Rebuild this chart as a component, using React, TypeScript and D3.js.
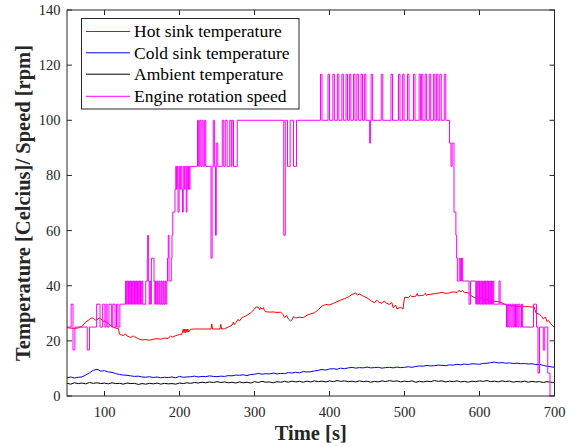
import React from "react";
import * as d3 from "d3";

// ---- data ----
const sampleTimes: number[] = d3.range(50, 701, 5);

const coldSinkTemp: number[] = [
  6.6, 6.9, 6.5, 6.8, 6.9, 7.6, 8.4, 9.3, 9.7, 9.0, 9.2, 8.7, 8.6, 8.1, 7.8, 7.6, 7.5, 7.3, 7.1, 7.2,
  6.9, 6.8, 7.0, 6.7, 6.9, 6.6, 6.8, 6.7, 6.9, 6.6, 7.1, 6.8, 6.9, 7.0, 7.2, 6.9, 7.1, 7.0, 7.3, 7.1,
  7.0, 7.2, 7.1, 7.4, 7.3, 7.6, 7.5, 7.7, 7.4, 7.8, 7.9, 8.2, 7.9, 8.1, 8.0, 8.3, 8.0, 8.2, 8.1, 8.5,
  8.3, 8.6, 8.4, 8.9, 8.7, 8.8, 9.1, 9.3, 9.6, 9.4, 9.8, 9.9, 9.7, 10.1, 9.9, 10.2, 10.4, 10.1, 10.3, 10.2,
  10.5, 10.2, 10.3, 10.4, 10.1, 10.3, 10.4, 10.2, 10.5, 10.3, 10.4, 10.6, 10.4, 10.7, 10.9, 10.8, 11.1, 10.9, 11.0, 11.2,
  11.1, 11.0, 11.3, 11.2, 11.5, 11.3, 11.6, 11.4, 11.7, 11.6, 11.5, 11.8, 11.9, 12.1, 12.3, 12.0, 12.1, 11.9, 12.0, 11.8,
  11.9, 11.7, 11.8, 11.6, 11.7, 11.4, 11.5, 11.1, 10.8, 10.6, 10.4,
];

const ambientTemp: number[] = [
  4.6, 4.3, 4.8, 4.5, 4.7, 4.4, 4.9, 4.6, 4.8, 4.5, 4.7, 4.4, 4.8, 4.5, 4.6, 4.3, 4.7, 4.5, 4.6, 4.2,
  4.5, 4.3, 4.6, 4.4, 4.7, 4.3, 4.6, 4.4, 4.5, 4.3, 4.7, 4.5, 4.8, 4.6, 4.9, 4.7, 5.0, 4.8, 5.1, 4.9,
  5.2, 4.9, 5.1, 4.8, 5.0, 4.7, 5.1, 4.8, 5.0, 4.7, 5.2, 4.9, 5.3, 5.0, 5.1, 4.8, 5.2, 5.0, 5.3, 5.0,
  5.4, 5.1, 5.3, 5.0, 5.4, 5.1, 5.5, 5.2, 5.4, 5.1, 5.5, 5.2, 5.6, 5.3, 5.5, 5.2, 5.4, 5.1, 5.5, 5.2,
  5.4, 5.0, 5.3, 5.1, 5.5, 5.2, 5.6, 5.3, 5.5, 5.1, 5.4, 5.2, 5.5, 5.0, 5.3, 5.1, 5.4, 5.2, 5.6, 5.3,
  5.5, 5.1, 5.4, 5.2, 5.5, 5.1, 5.3, 5.0, 5.4, 5.2, 5.5, 5.3, 5.6, 5.2, 5.4, 5.1, 5.5, 5.2, 5.4, 5.0,
  5.3, 5.1, 5.4, 5.0, 5.3, 5.1, 5.2, 4.9, 5.2, 5.0, 4.9,
];

const hotSink: [number, number][] = [
  [50, 24.8], [55, 24.6], [60, 24.5], [65, 24.7], [70, 25.3], [75, 26.8], [80, 27.8], [83, 28.3], [85, 28.2],
  [88, 27.5], [90, 27.6], [93, 28.4], [95, 28.0], [98, 27.1], [100, 27.2], [105, 26.3], [110, 25.2],
  [115, 24.6], [118.5, 24.5], [120, 22.4], [125, 21.9], [128, 22.5], [130, 21.8], [135, 21.2], [138, 21.8],
  [140, 21.5], [145, 20.8], [150, 20.3], [155, 20.5], [160, 20.2], [165, 20.6], [170, 20.8], [175, 20.6],
  [180, 21.0], [185, 20.9], [188, 21.8], [190, 21.3], [195, 21.9], [200, 22.3], [203, 22.4], [205, 24.2],
  [206, 23.0], [207, 24.3], [208, 23.0], [209, 24.2], [210, 23.1], [211, 24.3], [212, 23.2], [215, 24.2],
  [220, 24.3], [230, 24.3], [242, 24.3], [243, 26.1], [244, 24.3], [254, 24.3], [255, 26.0], [256, 24.3],
  [260, 24.4], [265, 25.0], [270, 25.7], [272, 26.8], [273, 25.9], [275, 26.5], [278, 27.8], [280, 27.2],
  [283, 28.4], [285, 28.6], [290, 29.3], [295, 30.2], [300, 31.5], [302, 32.3], [305, 32.2], [307, 31.3],
  [308, 32.1], [310, 31.5], [312, 32.0], [313, 31.0], [315, 30.6], [320, 30.4], [325, 30.5], [330, 30.3],
  [335, 30.4], [338, 29.5], [340, 28.5], [343, 29.2], [345, 28.0], [348, 27.2], [350, 27.6], [352, 28.8],
  [355, 28.3], [360, 28.6], [365, 28.4], [370, 29.3], [375, 29.8], [380, 30.2], [385, 31.3], [390, 32.6],
  [395, 33.2], [400, 33.0], [405, 33.6], [410, 34.2], [415, 34.8], [420, 35.3], [425, 35.9], [430, 36.8],
  [435, 37.4], [437, 36.6], [440, 37.0], [445, 36.2], [450, 35.6], [455, 34.6], [460, 33.8], [463, 34.8],
  [465, 34.2], [470, 33.6], [473, 34.5], [475, 33.8], [480, 33.2], [483, 33.9], [485, 32.0], [488, 33.0],
  [490, 31.6], [495, 32.2], [498, 31.5], [500, 35.8], [505, 35.7], [508, 36.5], [510, 36.0], [515, 36.2],
  [517, 37.2], [518, 36.3], [520, 36.4], [525, 36.5], [528, 37.3], [529, 36.5], [530, 36.7], [535, 36.9],
  [540, 37.1], [545, 37.3], [550, 37.6], [555, 37.2], [560, 37.4], [565, 37.8], [570, 37.5], [573, 38.4],
  [575, 37.7], [577, 38.3], [580, 37.6], [585, 37.4], [590, 36.2], [595, 35.4], [600, 35.0], [603, 35.8],
  [605, 34.9], [610, 35.2], [612, 34.3], [615, 34.6], [620, 34.4], [625, 34.2], [630, 33.8], [635, 33.0],
  [640, 32.8], [645, 32.6], [650, 32.5], [655, 32.5], [660, 32.4], [665, 32.4], [670, 32.3], [673, 32.2],
  [675, 30.2], [680, 29.6], [683, 28.8], [685, 28.0], [688, 28.6], [690, 27.0], [692, 27.4], [695, 26.2],
  [700, 24.8],
];

// engine speed change points [time, rpm] (value holds until next point)
const engineSpeed: [number, number][] = [
  [50, 25], [55.5, 33.3], [58, 16.7], [60.5, 25], [77, 16.7], [80, 25],
  [89.5, 33.3], [94, 25], [97.5, 33.3], [100.5, 25], [102, 33.3], [103.5, 25], [106, 33.3], [109.5, 25],
  [111, 33.3], [114, 25], [116, 33.3], [118, 25], [120.5, 33.3],
  [128, 41.7], [129, 33.3], [130, 41.7], [131, 33.3], [132, 41.7], [133, 33.3], [134, 41.7], [135, 33.3],
  [136, 41.7], [137, 33.3], [138, 41.7], [139, 33.3], [140, 41.7], [141, 33.3], [142, 41.7], [143, 33.3],
  [144, 41.7], [145, 33.3], [146, 41.7], [147, 33.3], [148, 41.7], [149, 33.3], [150, 41.7], [151, 33.3],
  [155, 41.7], [157, 50], [157.5, 58.3], [158.5, 41.7], [159.5, 33.3], [160.5, 41.7], [161.5, 33.3],
  [162.5, 50], [166, 41.7], [167, 33.3], [168, 41.7], [169, 33.3], [170.5, 41.7], [171.5, 33.3],
  [173, 41.7], [174, 33.3], [175.5, 41.7], [176.5, 33.3], [178, 41.7], [179, 33.3], [180.5, 41.7],
  [181.5, 33.3], [183, 41.7], [184, 50], [185, 58.3], [186, 41.7], [189, 50], [190, 58.3], [191, 66.7],
  [194, 75], [195, 83.3], [196, 75], [197, 83.3], [198, 66.7], [199.5, 83.3], [200.5, 75], [201.5, 83.3],
  [203, 75], [204, 66.7], [205, 83.3], [206.5, 75], [207.5, 83.3], [209, 66.7], [210, 83.3], [211, 75],
  [212, 83.3], [213, 75], [214, 83.3],
  [224, 100], [225.5, 83.3], [227, 100], [228.5, 83.3], [230, 100], [231.5, 83.3], [233.5, 100],
  [235, 83.3], [242, 50], [243.5, 83.3], [245, 100], [246.5, 83.3], [248, 58.3], [249, 91.7], [251, 83.3],
  [257, 100], [259, 83.3], [261, 100], [263.5, 83.3], [267, 100], [269, 83.3], [270, 100], [272, 83.3],
  [277, 100],
  [339, 58.3], [341, 100], [344, 83.3], [347.5, 100], [352, 83.3], [356, 100],
  [388, 116.7], [390, 100], [398, 116.7], [400, 100], [404.5, 116.7], [406.5, 100], [410.5, 116.7],
  [412.5, 100], [416.5, 116.7], [418.5, 100], [422, 116.7], [424, 100], [426.5, 116.7], [428.5, 100],
  [432, 116.7], [434, 100], [436.5, 116.7], [438.5, 100], [442, 116.7], [444, 100], [446.5, 116.7],
  [448.5, 100], [453.5, 91.7], [454.5, 100], [455.5, 116.7], [457.5, 100], [469, 116.7], [471, 100],
  [482, 116.7], [484, 100], [492, 116.7], [494, 100], [497.5, 116.7], [499.5, 100], [504, 116.7],
  [506, 100], [512, 116.7], [514, 100], [519.5, 116.7], [521.5, 100], [522.5, 116.7], [524.5, 100],
  [527.5, 116.7], [529.5, 100], [533, 116.7], [535, 100], [538.5, 116.7], [540.5, 100], [542.5, 116.7],
  [544.5, 100], [547, 116.7], [549, 100], [553, 116.7], [555, 100],
  [560, 91.7], [562, 83.3], [563.5, 91.7], [566, 66.7], [568.5, 58.3], [569.5, 50], [570.5, 41.7],
  [573, 50], [574.5, 41.7], [576, 50], [577.5, 41.7], [586, 33.3], [588, 41.7],
  [595, 33.3], [596, 41.7], [597, 33.3], [598, 41.7], [599, 33.3], [600, 41.7], [601, 33.3], [602, 41.7],
  [603, 33.3], [604, 41.7], [605, 33.3], [606, 41.7], [607, 33.3], [608, 41.7], [609, 33.3], [610, 41.7],
  [611, 33.3], [612, 41.7], [613, 33.3], [614, 41.7], [615, 33.3], [616, 41.7], [617, 33.3], [618, 41.7],
  [619, 33.3],
  [626, 41.7], [627.5, 33.3], [636, 25], [637.5, 33.3], [639, 25], [640.5, 33.3], [642, 25], [643.5, 33.3],
  [645, 25], [646.5, 33.3], [648, 25], [649.5, 33.3], [651, 25], [652.5, 33.3], [654, 25], [656, 33.3],
  [657.5, 25], [672, 33.3], [676, 25], [678, 8.3], [680, 25], [685, 16.7], [687, 25], [691, 8.3],
  [694, 0], [700, 0],
];

const xTicks: number[] = [100, 200, 300, 400, 500, 600, 700];
const yTicks: number[] = [0, 20, 40, 60, 80, 100, 120, 140];

const seriesNames: string[] = [
  "Hot sink temperature",
  "Cold sink temperature",
  "Ambient temperature",
  "Engine rotation speed",
];
const seriesColors: string[] = ["#ff0000", "#0000ff", "#000000", "#ff00ff"];

// ---- layout ----
const W = 574;
const H = 447;
const left = 67;
const right = 554.5;
const top = 10;
const bottom = 396;
const axisColor = "#262626";
const font = "'Liberation Serif', 'Times New Roman', serif";

export default function App() {
  const x = d3.scaleLinear().domain([50, 700]).range([left, right]);
  const y = d3.scaleLinear().domain([0, 140]).range([bottom, top]);

  const line = d3
    .line<[number, number]>()
    .x((d) => x(d[0]))
    .y((d) => y(d[1]));
  const stepLine = d3
    .line<[number, number]>()
    .x((d) => x(d[0]))
    .y((d) => y(d[1]))
    .curve(d3.curveStepAfter);

  const cold: [number, number][] = sampleTimes.map((t, i) => [t, coldSinkTemp[i]]);
  const amb: [number, number][] = sampleTimes.map((t, i) => [t, ambientTemp[i]]);

  const paths = [
    { d: line(hotSink), c: seriesColors[0] },
    { d: line(cold), c: seriesColors[1] },
    { d: line(amb), c: seriesColors[2] },
    { d: stepLine(engineSpeed), c: seriesColors[3] },
  ];

  const legendRows = [31.5, 52.8, 74.2, 96.3];

  return (
    <div style={{ position: "fixed", left: 0, top: 0 }}>
      <svg width={W} height={H} style={{ display: "block", background: "#fff" }}>
        <defs>
          <clipPath id="plotClip">
            <rect x={left} y={top} width={right - left} height={bottom - top} />
          </clipPath>
        </defs>
        <rect x={0} y={0} width={W} height={H} fill="#fff" />
        <g clipPath="url(#plotClip)">
          {paths.map((p, i) => (
            <path key={i} d={p.d || ""} fill="none" stroke={p.c} strokeWidth={1} strokeLinejoin="round" />
          ))}
        </g>
        {/* axes box */}
        <rect x={left} y={top} width={right - left} height={bottom - top} fill="none" stroke={axisColor} strokeWidth={1} />
        {xTicks.map((t) => (
          <g key={"x" + t}>
            <line x1={x(t)} x2={x(t)} y1={bottom} y2={bottom - 5} stroke={axisColor} />
            <line x1={x(t)} x2={x(t)} y1={top} y2={top + 5} stroke={axisColor} />
            <text x={x(t)} y={bottom + 20.5} textAnchor="middle" fontFamily={font} fontSize={14.5} fill={axisColor}>
              {t}
            </text>
          </g>
        ))}
        {yTicks.map((t) => (
          <g key={"y" + t}>
            <line x1={left} x2={left + 5} y1={y(t)} y2={y(t)} stroke={axisColor} />
            <line x1={right} x2={right - 5} y1={y(t)} y2={y(t)} stroke={axisColor} />
            <text x={left - 6.5} y={y(t) + 5} textAnchor="end" fontFamily={font} fontSize={14.5} fill={axisColor}>
              {t}
            </text>
          </g>
        ))}
        {/* axis labels */}
        <text x={(left + right) / 2} y={440} textAnchor="middle" fontFamily={font} fontSize={20.5} fontWeight="bold" fill={axisColor}>
          Time [s]
        </text>
        <text
          transform={`translate(30,${(top + bottom) / 2}) rotate(-90)`}
          textAnchor="middle"
          fontFamily={font}
          fontSize={20.5}
          fontWeight="bold"
          fill={axisColor}
        >
          Temperature [Celcius]/ Speed [rpm]
        </text>
        {/* legend */}
        <rect x={81.5} y={18.5} width={217.5} height={90.5} fill="#fff" stroke={axisColor} strokeWidth={1} />
        {seriesNames.map((n, i) => (
          <g key={n}>
            <line x1={86} x2={130} y1={legendRows[i]} y2={legendRows[i]} stroke={seriesColors[i]} strokeWidth={1} />
            <text x={134} y={legendRows[i] + 5.8} fontFamily={font} fontSize={17.5} fill="#000">
              {n}
            </text>
          </g>
        ))}
      </svg>
    </div>
  );
}
